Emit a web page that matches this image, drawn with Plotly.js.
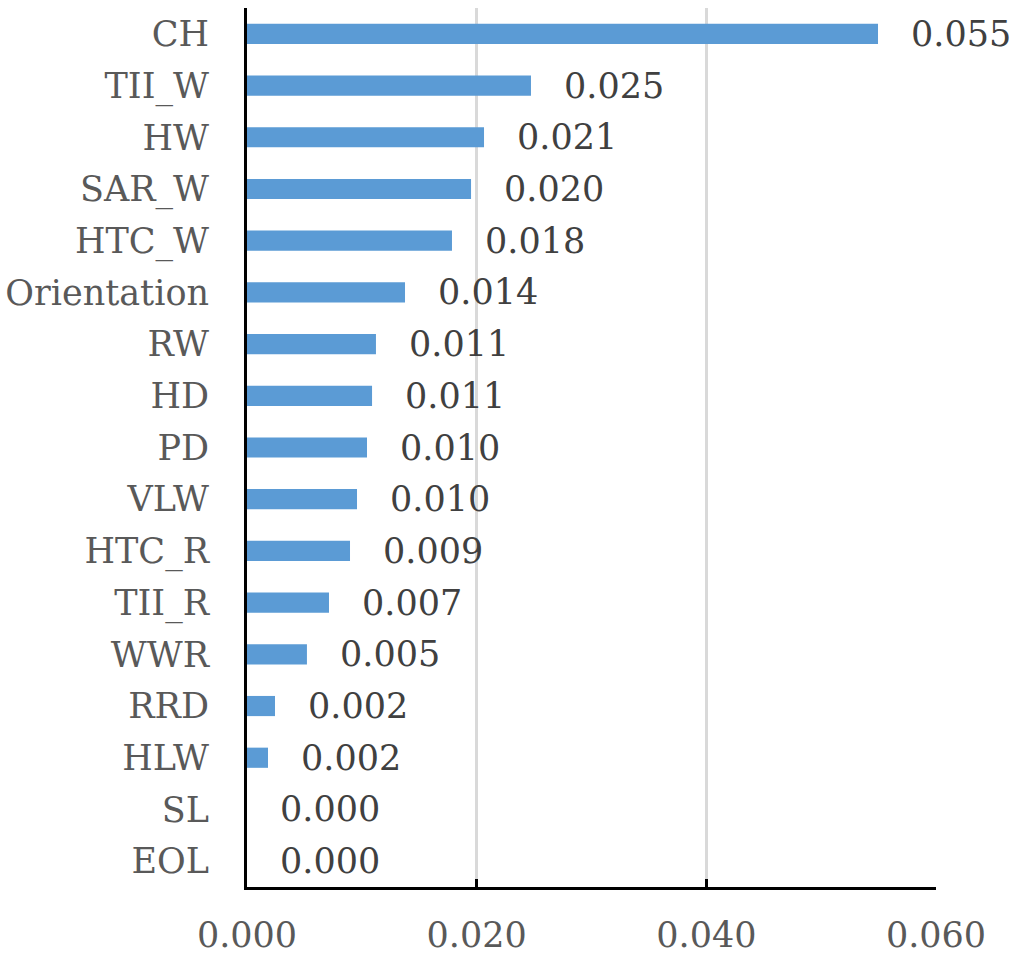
<!DOCTYPE html>
<html>
<head>
<meta charset="utf-8">
<script src="https://cdn.plot.ly/plotly-3.0.1.min.js"></script>
<style>html,body{margin:0;padding:0;background:#fff;}#chart{width:1013px;height:960px;}</style>
</head>
<body>
<div id="chart"></div>
<script>
var categories = ["CH","TII_W","HW","SAR_W","HTC_W","Orientation","RW","HD","PD","VLW","HTC_R","TII_R","WWR","RRD","HLW","SL","EOL"];
var values = [0.05495,0.02473,0.02064,0.01951,0.01785,0.01376,0.01123,0.01089,0.01045,0.00958,0.00897,0.00714,0.00522,0.00244,0.00183,0.0,0.0];
var xTickValues = [0, 0.02, 0.04, 0.06];
var xTickLabels = ["0.000","0.020","0.040","0.060"];

var fontFamily = "DejaVu Serif";

var trace = {
  type: "bar",
  orientation: "h",
  y: categories,
  x: values,
  marker: {color: "#5B9BD5"},
  hoverinfo: "none"
};

var annotations = values.map(function(v, i){
  return {
    x: v, y: categories[i], xref: "x", yref: "y",
    text: v.toFixed(3), showarrow: false,
    xanchor: "left", yanchor: "middle", xshift: 31,
    font: {family: fontFamily, size: 35, color: "#404040"}
  };
});

var layout = {
  width: 1013, height: 960,
  margin: {l: 247, r: 77, t: 8, b: 73},
  paper_bgcolor: "#ffffff", plot_bgcolor: "#ffffff",
  showlegend: false,
  bargap: 0.61,
  font: {family: fontFamily, size: 35, color: "#595959"},
  xaxis: {
    range: [0, 0.06],
    tickvals: xTickValues, ticktext: xTickLabels,
    showgrid: true, gridcolor: "#d9d9d9", gridwidth: 3,
    zeroline: false,
    showline: true, linecolor: "#000000", linewidth: 3,
    ticks: "inside", ticklen: 8, tickwidth: 3, tickcolor: "#000000",
    ticklabelstandoff: 15,
    tickfont: {family: fontFamily, size: 35, color: "#595959"}
  },
  yaxis: {
    type: "category",
    autorange: false, range: [16.5, -0.5],
    showgrid: false, zeroline: false,
    showline: true, linecolor: "#000000", linewidth: 3,
    ticks: "", ticklabelstandoff: 28,
    tickfont: {family: fontFamily, size: 35, color: "#595959"}
  },
  annotations: annotations
};

Plotly.newPlot("chart", [trace], layout, {displayModeBar: false, staticPlot: true});
</script>
</body>
</html>
